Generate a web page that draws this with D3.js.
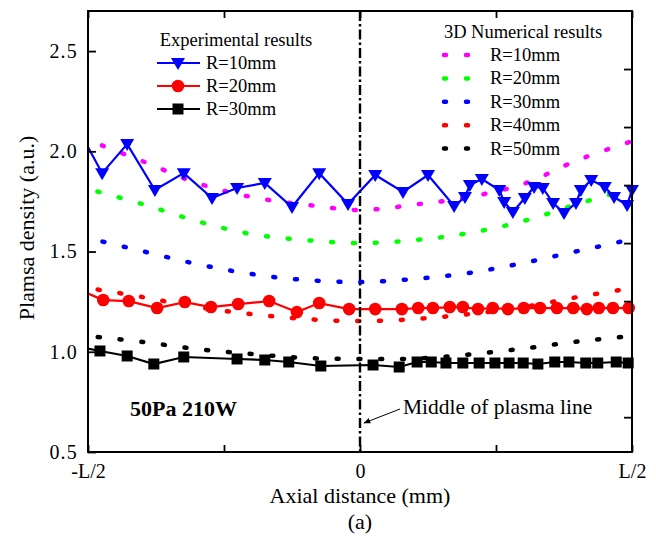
<!DOCTYPE html>
<html><head><meta charset="utf-8">
<script src="https://cdn.jsdelivr.net/npm/d3@7"></script>
<style>
body{margin:0;background:#fff}
svg{display:block}
text{font-family:"Liberation Serif","Times New Roman",serif;fill:#000}
</style>
</head><body>
<svg id="chart" width="656" height="542"></svg>
<script>
(function(){
// ---------- data ----------
const xTickValues = [-0.5, -0.25, 0, 0.25, 0.5];
const xTickLabels = {"-0.5": "-L/2", "0": "0", "0.5": "L/2"};
const yTickValues = [0.5, 1.0, 1.5, 2.0, 2.5];
const rightTickValues = [1, 2, 3, 4, 5, 6, 7];

// 3D numerical results (positions in units of L)
const numX = [-0.5, -0.4, -0.3, -0.2, -0.1, 0, 0.1, 0.2, 0.3, 0.4, 0.5];
const num10 = [2.056, 1.951, 1.842, 1.772, 1.734, 1.707, 1.734, 1.772, 1.837, 1.956, 2.051];
const num20 = [1.812, 1.737, 1.652, 1.587, 1.557, 1.542, 1.557, 1.592, 1.652, 1.737, 1.817];
const num30 = [1.567, 1.502, 1.438, 1.388, 1.358, 1.348, 1.363, 1.393, 1.443, 1.502, 1.562];
const num40 = [1.318, 1.273, 1.223, 1.188, 1.163, 1.153, 1.163, 1.188, 1.223, 1.273, 1.318];
const num50 = [1.079, 1.049, 1.014, 0.989, 0.969, 0.964, 0.966, 0.986, 1.016, 1.051, 1.079];
const numLabels = ["R=10mm", "R=20mm", "R=30mm", "R=40mm", "R=50mm"];

// Experimental results
const exp10X = [-0.515, -0.474, -0.428, -0.377, -0.324, -0.272, -0.226, -0.175, -0.125, -0.075, -0.022,
  0.028, 0.079, 0.125, 0.173, 0.193, 0.202, 0.224, 0.256, 0.265, 0.281, 0.303, 0.320, 0.336, 0.355,
  0.375, 0.397, 0.406, 0.425, 0.450, 0.467, 0.491, 0.5];
const exp10Y = [2.096, 1.891, 2.036, 1.807, 1.891, 1.767, 1.817, 1.842, 1.722, 1.891, 1.737,
  1.882, 1.797, 1.882, 1.727, 1.772, 1.832, 1.862, 1.807, 1.747, 1.697, 1.767, 1.822, 1.817, 1.742,
  1.692, 1.742, 1.807, 1.857, 1.822, 1.772, 1.732, 1.807];
const exp20X = [-0.515, -0.472, -0.425, -0.373, -0.322, -0.274, -0.224, -0.167, -0.116, -0.075, -0.020,
  0.028, 0.077, 0.107, 0.134, 0.165, 0.189, 0.217, 0.244, 0.272, 0.301, 0.331, 0.362, 0.392,
  0.417, 0.439, 0.465, 0.494];
const exp20Y = [1.308, 1.258, 1.253, 1.218, 1.248, 1.223, 1.238, 1.253, 1.198, 1.243, 1.213,
  1.213, 1.213, 1.218, 1.218, 1.223, 1.223, 1.213, 1.218, 1.213, 1.218, 1.218, 1.218, 1.218,
  1.213, 1.218, 1.218, 1.218];
const exp30X = [-0.515, -0.478, -0.428, -0.379, -0.324, -0.226, -0.175, -0.131, -0.072,
  0.024, 0.072, 0.105, 0.131, 0.158, 0.189, 0.219, 0.248, 0.274, 0.300, 0.327, 0.358, 0.384,
  0.415, 0.437, 0.471, 0.493];
const exp30Y = [1.024, 1.004, 0.979, 0.939, 0.974, 0.964, 0.959, 0.949, 0.929,
  0.934, 0.924, 0.949, 0.949, 0.944, 0.944, 0.944, 0.944, 0.944, 0.944, 0.939, 0.949, 0.949,
  0.944, 0.944, 0.949, 0.944];
const expLabels = ["R=10mm", "R=20mm", "R=30mm"];

// ---------- styles ----------
const numColors = ["#ff00ff", "#00ff00", "#0000ff", "#ff0000", "#000000"];
const numOffsets = [16, 11, 16, 11, 11];
const expColors = ["#0000ff", "#ff0000", "#000000"];
const expShapes = ["triangle", "circle", "square"];

const svg = d3.select("#chart");
const X0 = 88, X1 = 632, Y0 = 452, Y1 = 11;
const x = d3.scaleLinear().domain([-0.5, 0.5]).range([X0, X1]);
const y = d3.scaleLinear().domain([0.5, 2.7]).range([Y0, Y1]);
const yR = d3.scaleLinear().domain([0.4, 8.0]).range([Y0, Y1]);

const defs = svg.append("defs");
defs.append("clipPath").attr("id", "plotclip")
  .append("rect").attr("x", X0).attr("y", Y1).attr("width", X1 - X0).attr("height", Y0 - Y1);
defs.append("marker").attr("id", "arrow").attr("viewBox", "0 0 10 10")
  .attr("refX", 9).attr("refY", 5).attr("markerWidth", 7).attr("markerHeight", 7)
  .attr("orient", "auto-start-reverse").attr("markerUnits", "userSpaceOnUse")
  .append("path").attr("d", "M0,1 L10,5 L0,9 z").attr("fill", "#000");

// ---------- numerical curves ----------
const DASH = 2, PERIOD = 21.8;
const numSeries = [num10, num20, num30, num40, num50];
const curveLine = d3.line().x(d => x(d[0])).y(d => y(d[1])).curve(d3.curveCatmullRom);
const numG = svg.append("g").attr("clip-path", "url(#plotclip)");
numSeries.forEach((vals, i) => {
  const pts = numX.map((xv, k) => [xv, vals[k]]);
  numG.append("path").attr("d", curveLine(pts))
    .attr("fill", "none").attr("stroke", numColors[i]).attr("stroke-width", 4.5)
    .attr("stroke-linecap", "round")
    .attr("stroke-dasharray", `${DASH},${PERIOD - DASH}`)
    .attr("stroke-dashoffset", PERIOD - (numOffsets[i] - DASH / 2));
});

// ---------- experimental ----------
function markerPath(shape) {
  if (shape === "triangle") return "M-7,-5 L7,-5 L0,7 Z";
  if (shape === "square") return "M-5.5,-5.5 H5.5 V5.5 H-5.5 Z";
  return d3.symbol(d3.symbolCircle, Math.PI * 6.3 * 6.3)();
}
const expSeries = [[exp10X, exp10Y], [exp20X, exp20Y], [exp30X, exp30Y]];
const straight = d3.line().x(d => x(d[0])).y(d => y(d[1]));
const expLineG = svg.append("g").attr("clip-path", "url(#plotclip)");
const expMarkG = svg.append("g");
expSeries.forEach(([xs, ys], i) => {
  const pts = xs.map((xv, k) => [xv, ys[k]]);
  expLineG.append("path").attr("d", straight(pts)).attr("fill", "none")
    .attr("stroke", expColors[i]).attr("stroke-width", 2.2);
  expMarkG.selectAll(null).data(pts.filter(p => p[0] >= -0.5)).enter().append("path")
    .attr("d", markerPath(expShapes[i]))
    .attr("transform", d => `translate(${x(d[0])},${y(d[1])})`)
    .attr("fill", expColors[i]);
});

// ---------- middle line ----------
svg.append("line").attr("x1", x(0)).attr("x2", x(0)).attr("y1", Y1).attr("y2", Y0)
  .attr("stroke", "#000").attr("stroke-width", 2.4).attr("stroke-dasharray", "10,3,2.5,3");

// ---------- axes ----------
const axG = svg.append("g");
axG.append("rect").attr("x", X0).attr("y", Y1).attr("width", X1 - X0).attr("height", Y0 - Y1)
  .attr("fill", "none").attr("stroke", "#000").attr("stroke-width", 2);
const axB = d3.axisBottom(x).tickValues(xTickValues).tickSize(-7)
  .tickFormat(d => xTickLabels[String(d)] || "");
const gb = axG.append("g").attr("transform", `translate(0,${Y0})`).call(axB);
gb.select(".domain").remove();
gb.selectAll(".tick line").attr("stroke-width", 1.8);
gb.selectAll(".tick text").attr("dy", 0).attr("y", 26).attr("font-size", 20)
  .attr("font-family", "Liberation Serif");
const axT = d3.axisTop(x).tickValues(xTickValues).tickSize(-7).tickFormat("");
const gt = axG.append("g").attr("transform", `translate(0,${Y1})`).call(axT);
gt.select(".domain").remove();
gt.selectAll(".tick line").attr("stroke-width", 1.8);
const axL = d3.axisLeft(y).tickValues(yTickValues).tickSize(-8).tickFormat(d3.format(".1f"));
const gl = axG.append("g").attr("transform", `translate(${X0},0)`).call(axL);
gl.select(".domain").remove();
gl.selectAll(".tick line").attr("stroke-width", 1.8);
gl.selectAll(".tick text").attr("x", -10).attr("font-size", 20)
  .attr("font-family", "Liberation Serif").attr("letter-spacing", 1.2);
const axR = d3.axisRight(yR).tickValues(rightTickValues).tickSize(-8).tickFormat("");
const gr = axG.append("g").attr("transform", `translate(${X1},0)`).call(axR);
gr.select(".domain").remove();
gr.selectAll(".tick line").attr("stroke-width", 1.8);

// axis titles
svg.append("text").attr("x", 360).attr("y", 503).attr("text-anchor", "middle")
  .attr("font-size", 22).text("Axial distance (mm)");
svg.append("text").attr("x", 360).attr("y", 529).attr("text-anchor", "middle")
  .attr("font-size", 22).text("(a)");
svg.append("text").attr("transform", "translate(34,228) rotate(-90)").attr("text-anchor", "middle")
  .attr("font-size", 22).text("Plamsa density (a.u.)");

// ---------- legends ----------
svg.append("text").attr("x", 236).attr("y", 46).attr("text-anchor", "middle")
  .attr("font-size", 18.5).text("Experimental results");
expLabels.forEach((lab, i) => {
  const ly = 63 + i * 23;
  svg.append("line").attr("x1", 157).attr("x2", 200).attr("y1", ly).attr("y2", ly)
    .attr("stroke", expColors[i]).attr("stroke-width", 2.2);
  svg.append("path").attr("d", markerPath(expShapes[i]))
    .attr("transform", `translate(178,${ly})`).attr("fill", expColors[i]);
  svg.append("text").attr("x", 206).attr("y", ly + 6).attr("font-size", 18.5).text(lab);
});
svg.append("text").attr("x", 523).attr("y", 38).attr("text-anchor", "middle")
  .attr("font-size", 18.5).text("3D Numerical results");
numLabels.forEach((lab, i) => {
  const ly = 55 + i * 23.4;
  svg.append("path").attr("d", `M444,${ly} H470`).attr("stroke", numColors[i])
    .attr("stroke-width", 4.5).attr("stroke-linecap", "round")
    .attr("stroke-dasharray", "2,20").attr("fill", "none");
  svg.append("text").attr("x", 490).attr("y", ly + 6).attr("font-size", 18.5).text(lab);
});

// ---------- annotations ----------
svg.append("text").attr("x", 130).attr("y", 416).attr("font-size", 22)
  .attr("font-weight", "bold").text("50Pa 210W");
svg.append("text").attr("x", 403).attr("y", 414).attr("font-size", 21.5).text("Middle of plasma line");
svg.append("line").attr("x1", 400).attr("y1", 409).attr("x2", 364).attr("y2", 423)
  .attr("stroke", "#000").attr("stroke-width", 1).attr("marker-end", "url(#arrow)");
})();
</script>
</body></html>
